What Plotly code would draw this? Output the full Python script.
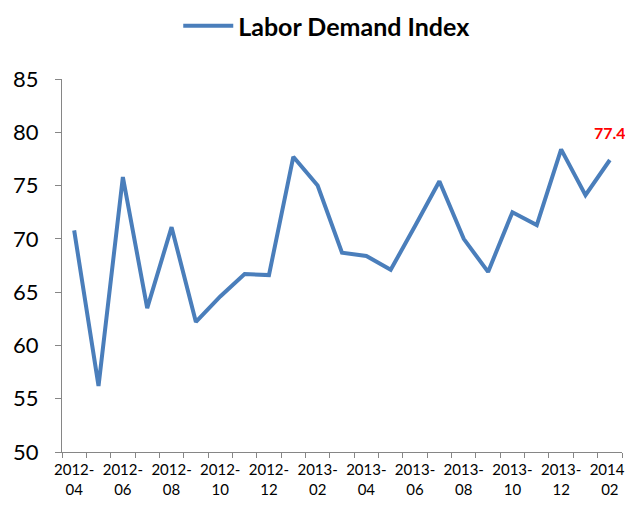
import plotly.graph_objects as go

months = ['2012-04', '2012-05', '2012-06', '2012-07', '2012-08', '2012-09',
          '2012-10', '2012-11', '2012-12', '2013-01', '2013-02', '2013-03',
          '2013-04', '2013-05', '2013-06', '2013-07', '2013-08', '2013-09',
          '2013-10', '2013-11', '2013-12', '2014-01', '2014-02']
index_values = [70.8, 56.2, 75.8, 63.5, 71.1, 62.2, 64.6, 66.7, 66.6, 77.7,
                75.0, 68.7, 68.4, 67.1, 71.2, 75.4, 70.0, 66.9, 72.5, 71.3,
                78.4, 74.1, 77.4]
y_ticks = [50, 55, 60, 65, 70, 75, 80, 85]

xpos = list(range(len(months)))
label_pos = xpos[::2]
label_text = [m.replace('-', '-<br>') for m in months[::2]]

fig = go.Figure()

fig.add_trace(go.Scatter(x=xpos, y=index_values,
                         mode='lines',
                         line=dict(color='#4A7EBB', width=4),
                         name='<b>Labor Demand Index</b>'))

# label on the last point
fig.add_annotation(x=xpos[-1], y=index_values[-1],
                   text='<b>%.1f</b>' % index_values[-1],
                   showarrow=False, xshift=0, yshift=27,
                   font=dict(color='red', size=16, family='Lato'))

# page body has an 8px margin, so the figure is a bit smaller than the window
fig.update_layout(
    width=625, height=497,
    margin=dict(l=54, r=11, t=71, b=53, autoexpand=False),
    paper_bgcolor='white',
    plot_bgcolor='white',
    font=dict(family='Lato', color='black'),
    showlegend=True,
    legend=dict(
        orientation='h',
        x=0.51, xanchor='center', xref='container',
        y=1 - 18 / 497, yanchor='middle', yref='container',
        font=dict(size=25, color='black'),
        itemwidth=50,
    ),
    xaxis=dict(
        range=[-0.5, len(months) - 0.5],
        tickmode='array',
        tickvals=label_pos,
        ticktext=label_text,
        ticks='',
        tickfont=dict(size=15),
        ticklabelstandoff=4,
        ticklabeloverflow='allow',
        showline=True, linecolor='#868686', linewidth=1,
        showgrid=False, zeroline=False,
        automargin=False,
        minor=dict(tickmode='linear', tick0=-0.5, dtick=1,
                   ticks='outside', ticklen=5, tickcolor='#868686',
                   showgrid=False),
    ),
    yaxis=dict(
        range=[50, 85],
        tickmode='array',
        tickvals=y_ticks,
        ticks='outside', ticklen=6, tickcolor='#868686',
        tickfont=dict(size=22),
        ticklabelstandoff=12,
        automargin=False,
        showline=True, linecolor='#868686', linewidth=1,
        showgrid=False, zeroline=False,
    ),
)

fig.write_html("out.html")
